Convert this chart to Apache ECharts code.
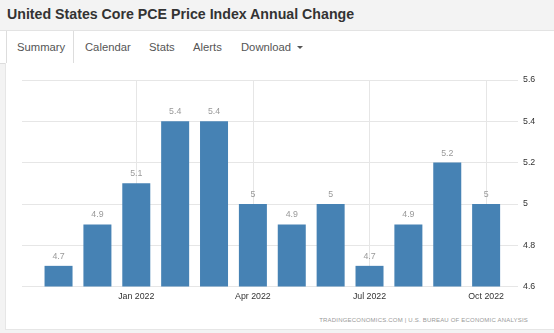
<!DOCTYPE html>
<html><head><meta charset="utf-8">
<script src="https://cdn.jsdelivr.net/npm/echarts@6/dist/echarts.min.js"></script>
<style>
html,body{margin:0;padding:0;width:554px;height:333px;overflow:hidden;background:#f3f3f3;font-family:"Liberation Sans",Arial,sans-serif;}
#title{position:absolute;left:7px;top:5px;font-size:14.2px;font-weight:bold;color:#333;line-height:18px;white-space:nowrap;}
#tabbar{position:absolute;left:0;top:30px;width:554px;height:32px;background:#fff;border-top:1px solid #e3e3e3;border-bottom:1px solid #ddd;}
#active{position:absolute;left:6px;top:0;width:66px;height:33px;background:#fff;border-left:1px solid #ddd;border-right:1px solid #ddd;}
.tab{position:absolute;top:0;height:32px;line-height:32px;font-size:11.25px;color:#555;white-space:nowrap;}
#caret{position:absolute;left:297px;top:15px;width:0;height:0;border-top:3px solid #555;border-left:3px solid transparent;border-right:3px solid transparent;}
#panel{position:absolute;left:5px;top:63px;width:549px;height:266px;background:#fff;border-left:1px solid #e6e6e6;border-bottom:1px solid #e6e6e6;}
#chart{position:absolute;left:0;top:0;width:554px;height:333px;}
#footer{position:absolute;right:26px;top:316px;font-size:6px;letter-spacing:0.2px;color:#999;white-space:nowrap;line-height:8px;}
</style>
</head>
<body>
<div id="title">United States Core PCE Price Index Annual Change</div>
<div id="tabbar">
  <div id="active"></div>
  <div class="tab" style="left:17px">Summary</div>
  <div class="tab" style="left:85px">Calendar</div>
  <div class="tab" style="left:149px">Stats</div>
  <div class="tab" style="left:193px">Alerts</div>
  <div class="tab" style="left:241px">Download</div>
  <div id="caret"></div>
</div>
<div id="panel"></div>
<div id="footer">TRADINGECONOMICS.COM | U.S. BUREAU OF ECONOMIC ANALYSIS</div>
<div id="chart"></div>
<script>
const months = ['Nov 2021','Dec 2021','Jan 2022','Feb 2022','Mar 2022','Apr 2022','May 2022','Jun 2022','Jul 2022','Aug 2022','Sep 2022','Oct 2022'];
const values = [4.7, 4.9, 5.1, 5.4, 5.4, 5.0, 4.9, 5.0, 4.7, 4.9, 5.2, 5.0];
const xTickLabels = ['Jan 2022','Apr 2022','Jul 2022','Oct 2022'];
const yTickMin = 4.6, yTickMax = 5.6, yTickStep = 0.2;

const tickIdx = xTickLabels.map(l => months.indexOf(l));
const FONT = '"Liberation Sans", Arial, sans-serif';
const chart = echarts.init(document.getElementById('chart'), null, {renderer:'canvas'});
chart.setOption({
  animation: false,
  backgroundColor: 'transparent',
  grid: {left: 22, right: 36, top: 80, bottom: 46.5, containLabel: false},
  xAxis: {
    type: 'value', min: -0.94, max: 11.82,
    axisLine: {show: false},
    axisTick: {show: false, customValues: tickIdx},
    axisLabel: {customValues: tickIdx, formatter: v => months[Math.round(v)] || '', color: '#333', fontSize: 8.8, fontFamily: FONT, margin: 6},
    splitLine: {show: true, lineStyle: {color: '#e6e6e6', width: 1}}
  },
  yAxis: {
    type: 'value', position: 'right', min: yTickMin, max: yTickMax, interval: yTickStep,
    axisLine: {show: false}, axisTick: {show: false},
    axisLabel: {color: '#333', fontSize: 8.8, fontFamily: FONT, margin: 5, formatter: v => String(+(+v).toFixed(1))},
    splitLine: {show: true, lineStyle: {color: '#e6e6e6', width: 1}}
  },
  series: [{
    type: 'bar',
    data: values.map((v, i) => [i, v]),
    barWidth: 28,
    itemStyle: {color: '#4682b4'},
    label: {show: true, position: 'top', distance: 5, color: '#999', fontSize: 8.8, fontFamily: FONT, formatter: p => String(p.value[1])}
  }]
});
</script>
</body></html>
